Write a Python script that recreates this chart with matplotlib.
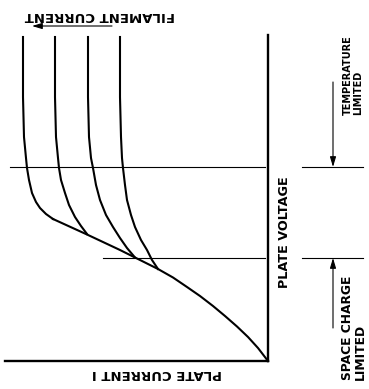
import numpy as np
import matplotlib
matplotlib.use("Agg")
import matplotlib.pyplot as plt

# space charge envelope (plate current I, plate voltage V), origin at corner
sc_current = [0, 10, 20, 31, 43, 55, 68, 81, 95, 110, 133, 148, 181, 215]
sc_voltage = [0, 13, 24, 34.5, 45, 55, 65, 74, 83.5, 92, 103.5, 111, 126.5, 142]

# filament current curves, top to knee
fil1_current = [245, 245, 244, 242, 241, 239, 236, 232, 228, 222, 215]
fil1_voltage = [324, 264, 224, 203, 193, 181, 168, 159, 153, 147, 142]
fil2_current = [213, 213, 212, 210, 209, 207, 203, 199, 193, 187, 181]
fil2_voltage = [324, 264, 224, 203, 193, 181, 168, 156, 144, 135, 127]
fil3_current = [180, 180, 179, 177, 175, 172, 168, 162, 155, 148, 141, 133]
fil3_voltage = [324, 264, 224, 203, 193, 176, 161, 146, 134, 123, 113, 103.5]
fil4_current = [148, 148, 147, 146, 145, 143, 141, 137, 133, 127, 121, 116, 110]
fil4_voltage = [324, 264, 224, 203, 193, 176, 161, 146, 134, 121, 111, 101, 92]

temp_limit_v = 194
space_limit_v = 103
v_axis_top = 326
i_axis_end = 263

fig = plt.figure(figsize=(3.69, 3.89), dpi=100)
ax = fig.add_axes([0, 0, 1, 1])
ax.set_xlim(-268, 101)
ax.set_ylim(-28, 361)
ax.set_axis_off()

lw = 1.5
# current grows to the left
ax.plot(-np.array(sc_current), sc_voltage, color="black", lw=lw)
for cur, vol in [(fil1_current, fil1_voltage), (fil2_current, fil2_voltage),
                 (fil3_current, fil3_voltage), (fil4_current, fil4_voltage)]:
    ax.plot(-np.array(cur), vol, color="black", lw=lw)

# axes
ax.plot([0, 0], [0, v_axis_top], color="black", lw=1.7)
ax.plot([-i_axis_end, 0], [0, 0], color="black", lw=1.7)

# region boundaries
ax.plot([-258, -3], [temp_limit_v, temp_limit_v], color="black", lw=0.8)
ax.plot([34, 95], [temp_limit_v, temp_limit_v], color="black", lw=0.8)
ax.plot([-165, -3], [space_limit_v, space_limit_v], color="black", lw=0.8)
ax.plot([34, 95], [space_limit_v, space_limit_v], color="black", lw=0.8)

arr = dict(arrowstyle="-|>,head_length=0.6,head_width=0.18", color="black", lw=0.8,
           shrinkA=0, shrinkB=0)
ax.annotate("", xy=(65, temp_limit_v), xytext=(65, 279), arrowprops=arr)
ax.annotate("", xy=(65, space_limit_v), xytext=(65, 33), arrowprops=arr)
ax.annotate("", xy=(-236, 335), xytext=(-156, 335), arrowprops=arr)

font = dict(family="DejaVu Sans", weight="bold", color="black")
ax.text(-168, 346, "FILAMENT CURRENT", rotation=180, ha="center", va="center", fontsize=9.5, **font)
ax.text(-111, -12, "PLATE CURRENT I", rotation=180, ha="center", va="center", fontsize=9.5, **font)
ax.text(17, 129, "PLATE VOLTAGE", rotation=90, ha="center", va="center", fontsize=9.2, **font)
ax.text(85, 246, "TEMPERATURE\nLIMITED", rotation=90, ha="center", va="bottom",
        multialignment="left", linespacing=0.95, fontsize=7, **font)
ax.text(86, -19, "SPACE CHARGE\nLIMITED", rotation=90, ha="center", va="bottom",
        multialignment="left", linespacing=0.95, fontsize=8.8, **font)

fig.savefig("out.png", dpi=100)
